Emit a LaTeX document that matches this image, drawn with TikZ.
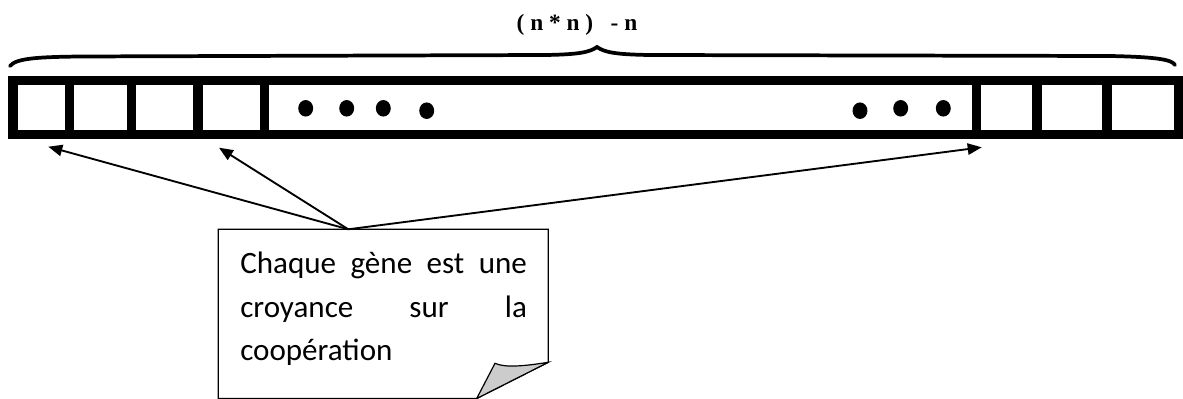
\documentclass[tikz,border=0pt]{standalone}
\usepackage{fontspec}
\newfontfamily\notefont{Carlito}
\newfontfamily\titlefont{Liberation Serif}
\usetikzlibrary{arrows.meta}

\begin{document}
\begin{tikzpicture}[x=0.75pt, y=-0.75pt,
    bar/.style={line width=7pt},
    sep/.style={line width=6.8pt},
    arr/.style={-{Triangle[length=10.5pt, width=8.5pt]}, line width=1.4pt},
    note/.style={draw, line width=0.9pt, fill=white},
    brace/.style={line width=2.8pt, line cap=round},
]
\useasboundingbox (0,0) rectangle (1183,399);

\node[font=\titlefont\bfseries\fontsize{17.5}{19}\selectfont, anchor=base] (title) at (577,31) {( n * n )\ \ \ - n};

\draw[brace] (10,66) .. controls (16,58) and (40,57) .. (80,56.5) -- (545,55) .. controls (580,54.5) and (590,52) .. (597,47) .. controls (604,52) and (614,54.5) .. (650,55) -- (1110,56) .. controls (1160,57) and (1172,60) .. (1175,65);

\draw[bar] (13,80.3) rectangle (1178.7,134.7);
\foreach \x in {69.5, 131.3, 198, 264.7, 976.3, 1037, 1107}
  \draw[sep] (\x,80.3) -- (\x,134.7);

\foreach \x/\y in {305.7/108.3, 346.7/108.3, 383.3/108.3, 426.7/110.7, 860/110.7, 900.7/108.3, 943.3/108.3}
  \fill (\x,\y) ellipse [x radius=5.6pt, y radius=6.2pt];

\draw[note] (218.3,229.3) -- (548.3,229.3) -- (548.3,362.3) -- (476.7,398.5) -- (218.3,398.5) -- cycle;
\filldraw[fill=gray!40, line width=0.9pt] (548.3,362.3) .. controls (525,366) and (505,368) .. (495,363.3) -- (476.7,398.5) -- cycle;

\node[font=\notefont\fontsize{23.3}{32.5}\selectfont, text width=215pt, align=left, inner sep=0pt, anchor=base west] (note) at (240,274)
  {Chaque\hfill gène\hfill est\hfill une\\croyance\hfill sur\hfill la\\coopération};

\coordinate (tip) at (348.3,229.3);
\coordinate (gene1) at (48.3,146.7);
\coordinate (gene4) at (219,147.7);
\coordinate (geneR) at (981.7,147.3);

\draw[arr] (tip) -- (gene1);
\draw[arr] (tip) -- (gene4);
\draw[arr] (tip) -- (geneR);

\end{tikzpicture}
\end{document}
